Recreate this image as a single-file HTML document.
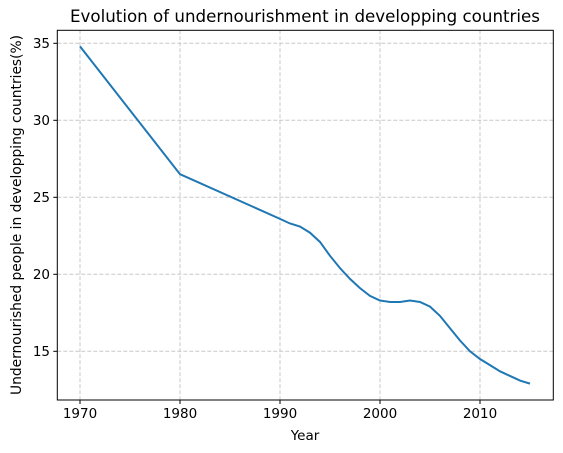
<!DOCTYPE html>
<html><head><meta charset="utf-8"><style>
body{margin:0;background:#fff;}
svg{display:block;font-family:"DejaVu Sans","Liberation Sans",sans-serif;}
</style></head><body>
<svg id="chart" width="563" height="453" viewBox="0 0 563 453">
<rect width="563" height="453" fill="#fff"/>
<g id="grid"></g><g id="ticks"></g>
<path id="line" fill="none" stroke="#1f77b4" stroke-width="2"/>
<rect x="57.3" y="30.3" width="496" height="369.7" fill="none" stroke="#000" stroke-width="1"/>
<text x="305" y="22" font-size="16.5" text-anchor="middle" textLength="470" lengthAdjust="spacingAndGlyphs">Evolution of undernourishment in developping countries</text>
<text x="305" y="440" font-size="13.5" text-anchor="middle">Year</text>
<text transform="translate(21,215) rotate(-90)" font-size="13.8" text-anchor="middle" textLength="360" lengthAdjust="spacingAndGlyphs">Undernourished people in developping countries(%)</text>
</svg>
<script>
const years=[1970,1980,1990,1991,1992,1993,1994,1995,1996,1997,1998,1999,2000,2001,2002,2003,2004,2005,2006,2007,2008,2009,2010,2011,2012,2013,2014,2015];
const values=[34.8,26.5,23.6,23.3,23.1,22.7,22.1,21.2,20.4,19.7,19.1,18.6,18.3,18.2,18.2,18.3,18.2,17.9,17.3,16.5,15.7,15.0,14.5,14.1,13.7,13.4,13.1,12.9];
const xTicks=[1970,1980,1990,2000,2010];
const yTicks=[15,20,25,30,35];
const X=v=>80+(v-1970)*10;
const Y=v=>351.3-(v-15)*15.4;
const ns="http://www.w3.org/2000/svg";
const grid=document.getElementById('grid'),tk=document.getElementById('ticks');
function mk(tag,attrs,parent){const e=document.createElementNS(ns,tag);for(const k in attrs)e.setAttribute(k,attrs[k]);parent.appendChild(e);return e;}
xTicks.forEach(t=>{
 const g=mk('line',{x1:X(t),x2:X(t),y1:30.3,y2:400,stroke:'#c8c8c8','stroke-dasharray':'4,2','stroke-width':1},grid);
 
 
 mk('line',{x1:X(t),x2:X(t),y1:400,y2:404,stroke:'#000'},tk);
 const l=mk('text',{x:X(t),y:418,'font-size':13.5,'text-anchor':'middle'},tk);l.textContent=t;
 
 
});
yTicks.forEach(t=>{
 const g=mk('line',{x1:57.3,x2:553.3,y1:Y(t),y2:Y(t),stroke:'#c8c8c8','stroke-dasharray':'4,2','stroke-width':1},grid);
 
 
 mk('line',{x1:53.3,x2:57.3,y1:Y(t),y2:Y(t),stroke:'#000'},tk);
 const l=mk('text',{x:50,y:Y(t)+4.8,'font-size':13.5,'text-anchor':'end'},tk);l.textContent=t;
 
 
});
document.getElementById('line').setAttribute('d',years.map((y,i)=>(i?'L':'M')+X(y)+','+Y(values[i])).join(' '));
</script>
</body></html>
